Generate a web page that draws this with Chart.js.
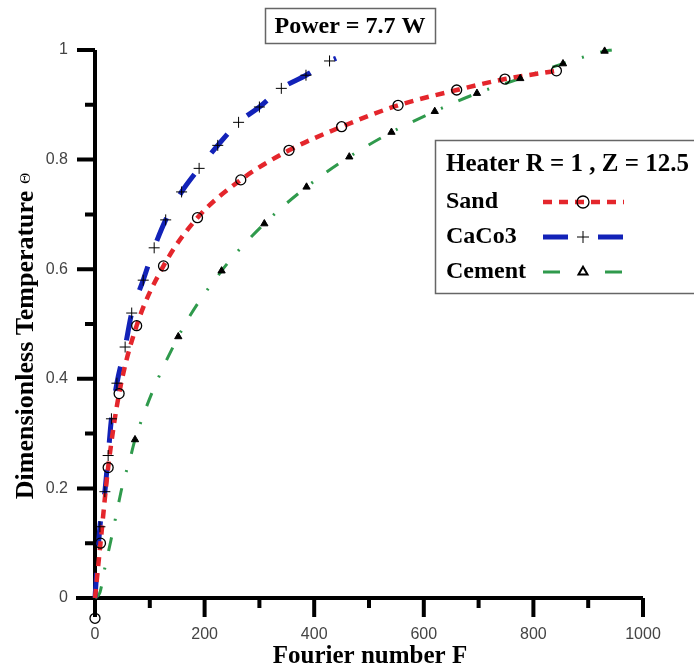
<!DOCTYPE html>
<html>
<head>
<meta charset="utf-8">
<script src="https://cdn.jsdelivr.net/npm/chart.js@4.4.0/dist/chart.umd.min.js"></script>
<style>
    html, body { margin: 0; padding: 0; background: #fff; }
    #wrap { width: 694px; height: 670px; }
</style>
</head>
<body>
<div id="wrap"><canvas id="chart" width="694" height="670"></canvas></div>
<script>
// axis ticks
const xTicks = [0, 200, 400, 600, 800, 1000];
const xMinor = [100, 300, 500, 700, 900];
const yTicks = [0, 0.2, 0.4, 0.6, 0.8, 1];
const yMinor = [0.1, 0.3, 0.5, 0.7, 0.9];

// Sand: markers and fitted curve
const sandF = [0, 10, 24, 44, 76, 125, 187, 266, 354, 450, 553, 660, 748, 842];
const sandT = [-0.037, 0.1, 0.238, 0.373, 0.497, 0.606, 0.694, 0.763, 0.817, 0.86, 0.899, 0.927, 0.947, 0.962];
const sandLineF = [0, 10, 24, 44, 76, 125, 187, 266, 354, 450, 553, 660, 748, 842];
const sandLineT = [0, 0.1, 0.238, 0.373, 0.497, 0.606, 0.694, 0.763, 0.817, 0.86, 0.899, 0.927, 0.947, 0.962];

// CaCo3
const caF = [9, 18, 24, 30, 40, 55, 67, 88, 108, 129, 158, 190, 224, 262, 300, 340, 385, 428];
const caT = [0.13, 0.194, 0.26, 0.327, 0.392, 0.458, 0.52, 0.58, 0.639, 0.69, 0.741, 0.784, 0.826, 0.868, 0.896, 0.93, 0.954, 0.98];
const caLineF = [0, 9, 18, 24, 30, 40, 55, 67, 88, 108, 129, 158, 190, 224, 262, 300, 340, 385, 428, 440];
const caLineT = [0, 0.13, 0.194, 0.26, 0.327, 0.392, 0.458, 0.52, 0.58, 0.639, 0.69, 0.741, 0.784, 0.826, 0.868, 0.896, 0.93, 0.954, 0.98, 0.985];

// Cement
const ceF = [73, 152, 231, 309, 386, 464, 541, 620, 697, 776, 854, 930];
const ceT = [0.289, 0.477, 0.597, 0.683, 0.75, 0.805, 0.85, 0.888, 0.921, 0.948, 0.975, 0.998];
const ceLineF = [0, 9, 18, 29, 40, 50, 65, 73, 152, 231, 309, 386, 464, 541, 620, 697, 776, 854, 930, 943];
const ceLineT = [0, 0.01, 0.055, 0.105, 0.158, 0.205, 0.258, 0.289, 0.477, 0.597, 0.683, 0.75, 0.805, 0.85, 0.888, 0.921, 0.948, 0.975, 0.998, 1.0];

const RED = '#e4262c';
const BLUE = '#1222b8';
const GREEN = '#2f9a4c';
const SERIF = '"Liberation Serif", "Times New Roman", serif';
const SANS = '"Liberation Sans", Arial, sans-serif';

const pts = (xs, ys) => xs.map((x, i) => ({ x: x, y: ys[i] }));

const series = [
    { name: 'Sand', color: RED, width: 4.5, dash: [9, 7], style: 'circle', radius: 5, fill: 'rgba(0,0,0,0)', bw: 1.3 },
    { name: 'CaCo3', color: BLUE, width: 5, dash: [25, 27], style: 'cross', radius: 5.5, fill: '#000', bw: 1 },
    { name: 'Cement', color: GREEN, width: 3, dash: [14, 17, 2, 17], style: 'triangle', radius: 4.2, fill: '#000', bw: 1 }
];

function lineSet(s, xs, ys) {
    return {
        data: pts(xs, ys), showLine: true, pointRadius: 0, borderColor: s.color,
        borderWidth: s.width, borderDash: s.dash, cubicInterpolationMode: 'monotone',
        order: 2, clip: false
    };
}
function markSet(s, xs, ys) {
    return {
        data: pts(xs, ys), showLine: false, pointStyle: s.style, pointRadius: s.radius,
        pointBackgroundColor: s.fill, pointBorderColor: '#000', pointBorderWidth: s.bw,
        order: 1, clip: false
    };
}

const decor = {
    id: 'decor',
    beforeDatasetsDraw(chart) {
        const ctx = chart.ctx, xs = chart.scales.x, ys = chart.scales.y;
        const x0 = xs.getPixelForValue(0), y0 = ys.getPixelForValue(0);
        ctx.save();
        ctx.strokeStyle = '#000';
        ctx.lineWidth = 4;
        ctx.beginPath();
        ctx.moveTo(x0, ys.getPixelForValue(1));
        ctx.lineTo(x0, y0 + 19);
        ctx.moveTo(x0 - 19, y0);
        ctx.lineTo(xs.getPixelForValue(1000), y0);
        xTicks.forEach(v => { const p = xs.getPixelForValue(v); ctx.moveTo(p, y0); ctx.lineTo(p, y0 + 19); });
        xMinor.forEach(v => { const p = xs.getPixelForValue(v); ctx.moveTo(p, y0); ctx.lineTo(p, y0 + 10); });
        yTicks.forEach(v => { const p = ys.getPixelForValue(v); ctx.moveTo(x0, p); ctx.lineTo(x0 - 18, p); });
        yMinor.forEach(v => { const p = ys.getPixelForValue(v); ctx.moveTo(x0, p); ctx.lineTo(x0 - 10, p); });
        ctx.stroke();
        ctx.restore();
    },
    afterDraw(chart) {
        const ctx = chart.ctx;
        ctx.save();
        ctx.fillStyle = '#000';
        ctx.textBaseline = 'middle';

        // axis titles
        ctx.font = 'bold 25px ' + SERIF;
        ctx.textAlign = 'center';
        ctx.fillText('Fourier number F', 370, 657);

        ctx.save();
        ctx.translate(26, 345);
        ctx.rotate(-Math.PI / 2);
        ctx.font = 'bold 26px ' + SERIF;
        const w = ctx.measureText('Dimensionless Temperature').width;
        ctx.fillText('Dimensionless Temperature', 0, 0);
        ctx.font = '15px ' + SERIF;
        ctx.textAlign = 'left';
        ctx.fillText('\u0398', w / 2 + 7, 0);
        ctx.restore();

        // title box
        ctx.strokeStyle = '#666';
        ctx.lineWidth = 1.5;
        ctx.strokeRect(265.5, 8.5, 170, 35);
        ctx.font = 'bold 24px ' + SERIF;
        ctx.textAlign = 'center';
        ctx.fillText('Power = 7.7 W', 350, 27);

        // legend box
        ctx.strokeRect(435.5, 140.5, 270, 153);
        ctx.textAlign = 'left';
        ctx.font = 'bold 25px ' + SERIF;
        ctx.fillText('Heater R = 1 , Z = 12.5', 446, 165);
        const rows = [202, 237, 272];
        series.forEach((s, i) => {
            const y = rows[i];
            ctx.fillStyle = '#000';
            ctx.font = 'bold 24px ' + SERIF;
            ctx.fillText(s.name, 446, y);
            ctx.save();
            ctx.strokeStyle = s.color;
            ctx.lineWidth = s.width;
            ctx.setLineDash(i === 0 ? [9, 7] : (i === 1 ? [25, 30] : [17, 45]));
            ctx.beginPath();
            ctx.moveTo(543, y);
            ctx.lineTo(624, y);
            ctx.stroke();
            ctx.restore();
            ctx.save();
            ctx.strokeStyle = '#000';
            ctx.fillStyle = i === 2 ? '#fff' : s.fill;
            ctx.lineWidth = i === 2 ? 2 : s.bw;
            Chart.helpers.drawPoint(ctx, { pointStyle: s.style, radius: i === 1 ? 6 : s.radius + 1, rotation: 0, borderWidth: ctx.lineWidth }, 583, y);
            ctx.restore();
        });
        ctx.restore();
    }
};

new Chart(document.getElementById('chart'), {
    type: 'scatter',
    data: {
        datasets: [
            lineSet(series[0], sandLineF, sandLineT),
            lineSet(series[1], caLineF, caLineT),
            lineSet(series[2], ceLineF, ceLineT),
            markSet(series[0], sandF, sandT),
            markSet(series[1], caF, caT),
            markSet(series[2], ceF, ceT)
        ]
    },
    options: {
        responsive: false,
        animation: false,
        layout: { padding: { top: 50, right: 51, left: 0, bottom: 0 } },
        plugins: { legend: { display: false }, tooltip: { enabled: false } },
        scales: {
            x: {
                type: 'linear', min: 0, max: 1000,
                afterFit: s => { s.height = 44.6; },
                afterBuildTicks: s => { s.ticks = xTicks.map(v => ({ value: v })); },
                grid: { display: false, drawTicks: false },
                border: { display: false },
                ticks: { padding: 0, color: '#444', font: { family: SANS, size: 16 }, maxRotation: 0, callback: v => String(v) }
            },
            y: {
                type: 'linear', min: -0.05, max: 1,
                afterFit: s => { s.width = 95; },
                afterBuildTicks: s => { s.ticks = yTicks.map(v => ({ value: v })); },
                grid: { display: false, drawTicks: false },
                border: { display: false },
                ticks: { padding: 27, color: '#444', font: { family: SANS, size: 16 }, callback: v => String(+v.toFixed(1)) }
            }
        }
    },
    plugins: [decor]
});
</script>
</body>
</html>
